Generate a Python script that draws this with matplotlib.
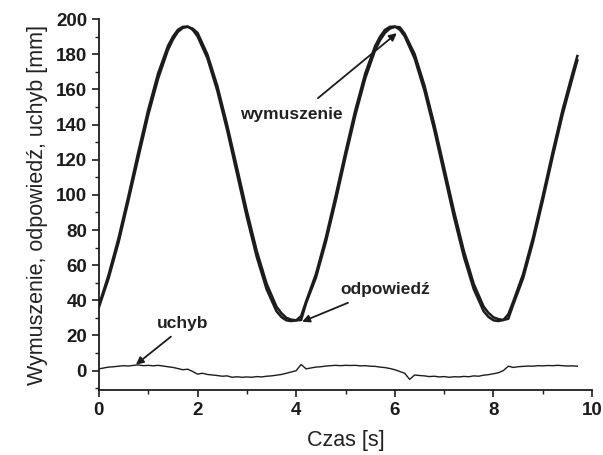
import numpy as np
import matplotlib
matplotlib.use("Agg")
import matplotlib.pyplot as plt
from matplotlib.ticker import MultipleLocator

# ---- data ----
t_main = [0.0, 0.2, 0.4, 0.6, 0.8, 1.0, 1.2, 1.4, 1.5, 1.6, 1.7, 1.8, 1.9,
          2.0, 2.2, 2.4, 2.6, 2.8, 3.0, 3.2, 3.4, 3.6, 3.7, 3.8, 3.9,
          4.0, 4.1, 4.2, 4.4, 4.6, 4.8, 5.0, 5.2, 5.4, 5.6, 5.7, 5.8, 5.9,
          6.0, 6.1, 6.2, 6.4, 6.6, 6.8, 7.0, 7.2, 7.4, 7.6, 7.8, 7.9,
          8.0, 8.1, 8.2, 8.3, 8.4, 8.6, 8.8, 9.0, 9.2, 9.4, 9.6, 9.7]

wymuszenie = [37.0, 54.8, 75.6, 99.5, 124.5, 148.4, 169.1, 184.7, 190.0, 193.9, 195.6, 195.8, 194.0,
              190.2, 177.7, 159.3, 136.8, 112.0, 87.2, 64.7, 46.3, 33.8, 30.5, 28.6, 28.2,
              28.6, 31.0, 39.3, 54.9, 75.6, 99.5, 124.5, 148.4, 169.1, 184.7, 190.0, 193.9, 195.6,
              195.8, 194.0, 190.2, 177.7, 159.3, 136.8, 112.0, 87.2, 64.7, 46.3, 33.8, 30.5,
              28.6, 28.2, 28.8, 32.0, 39.3, 54.9, 75.6, 99.5, 124.5, 148.4, 169.1, 179.0]

odpowiedz = [36.0, 52.8, 73.1, 96.9, 121.3, 145.4, 166.1, 182.5, 188.3, 192.7, 195.0, 195.6, 194.6,
             192.2, 179.9, 162.1, 139.8, 115.5, 90.8, 68.1, 49.5, 36.4, 32.7, 30.0, 29.0,
             28.6, 28.8, 38.3, 52.9, 73.0, 96.5, 121.5, 145.4, 166.3, 182.3, 188.0, 192.2, 194.6,
             195.6, 195.4, 191.7, 180.2, 162.3, 140.0, 115.4, 90.7, 68.0, 49.3, 36.4, 32.8,
             30.3, 29.3, 28.8, 29.5, 37.5, 52.5, 73.1, 96.8, 121.7, 145.6, 166.4, 176.5]

t_err = np.round(np.arange(0.0, 9.75, 0.1), 1)
uchyb = [1.0, 1.5, 2.0, 2.2, 2.5, 2.8, 2.6, 3.0, 3.2, 2.8,
         3.0, 2.7, 3.0, 2.6, 2.2, 1.8, 1.2, 0.5, 0.8, -0.5,
         -2.0, -1.5, -2.2, -2.5, -2.8, -3.2, -3.0, -3.8, -3.5, -3.8,
         -3.6, -3.8, -3.4, -3.6, -3.2, -3.0, -2.6, -2.2, -1.5, -0.8,
         0.0, 3.5, 1.0, 1.5, 2.0, 2.2, 2.6, 2.8, 3.0, 2.8,
         3.0, 2.9, 3.0, 2.7, 2.8, 2.5, 2.4, 2.0, 1.7, 1.2,
         0.5, -0.5, -1.5, -5.0, -2.5, -2.8, -3.0, -3.4, -3.2, -3.6,
         -3.4, -3.8, -3.5, -3.6, -3.3, -3.5, -3.0, -3.2, -2.6, -2.3,
         -1.8, -1.2, 0.0, 2.5, 1.8, 2.2, 2.4, 2.6, 2.5, 2.8,
         2.7, 2.9, 2.8, 3.0, 2.8, 2.6, 2.7, 2.5]

xticks = [0, 2, 4, 6, 8, 10]
yticks = [0, 20, 40, 60, 80, 100, 120, 140, 160, 180, 200]

plt.rcParams['font.family'] = ['Liberation Sans', 'DejaVu Sans']

fig = plt.figure(figsize=(6.03, 4.55), dpi=100)
ax = fig.add_axes([0.164, 0.143, 0.818, 0.815])

ink = '#1c1c1c'
ax.plot(t_main, wymuszenie, color=ink, lw=1.8, solid_joinstyle='round')
ax.plot(t_main, odpowiedz, color=ink, lw=1.8, solid_joinstyle='round')
ax.plot(t_err, uchyb, color=ink, lw=1.0)

ax.set_xlim(0, 10)
ax.set_ylim(-11, 200)
ax.set_xticks(xticks)
ax.set_yticks(yticks)
ax.xaxis.set_minor_locator(MultipleLocator(1))
ax.yaxis.set_minor_locator(MultipleLocator(10))

for s in ['top', 'right']:
    ax.spines[s].set_visible(False)
for s in ['left', 'bottom']:
    ax.spines[s].set_color(ink)
    ax.spines[s].set_linewidth(1.3)

ax.tick_params(which='major', direction='out', length=5, width=1.2, colors=ink,
               labelsize=13.5)
ax.tick_params(which='minor', direction='out', length=3, width=1.0, colors=ink)
for lab in ax.get_xticklabels() + ax.get_yticklabels():
    lab.set_fontweight('bold')

ax.set_xlabel('Czas [s]', fontsize=15.5, color='#222222', labelpad=8)
ax.set_ylabel('Wymuszenie, odpowiedź, uchyb [mm]', fontsize=15.5, color='#222222',
              labelpad=6)

arrow = dict(arrowstyle='-|>', color=ink, lw=1.3, mutation_scale=11,
             shrinkA=0, shrinkB=0)
ax.annotate('', xy=(6.04, 192), xytext=(4.44, 155), arrowprops=arrow)
ax.text(3.91, 146, 'wymuszenie', ha='center', va='center', fontsize=12.5,
        fontweight='bold', color='#222222')
ax.annotate('', xy=(4.12, 27.8), xytext=(5.05, 38.6), arrowprops=arrow)
ax.text(5.80, 46, 'odpowiedź', ha='center', va='center', fontsize=12.5,
        fontweight='bold', color='#222222')
ax.annotate('', xy=(0.75, 3.4), xytext=(1.46, 19.3), arrowprops=arrow)
ax.text(1.70, 27, 'uchyb', ha='center', va='center', fontsize=12.5,
        fontweight='bold', color='#222222')

fig.savefig('out.png', dpi=100)
